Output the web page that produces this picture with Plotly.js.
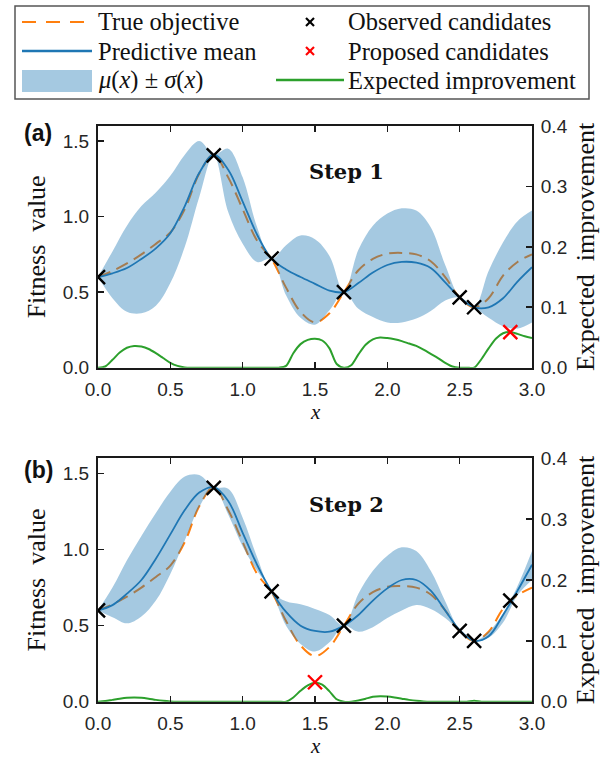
<!DOCTYPE html>
<html>
<head>
<meta charset="utf-8">
<script src="https://cdn.plot.ly/plotly-3.0.1.min.js"></script>
<style>
  html, body { margin: 0; padding: 0; background: #fff; }
  #chart { width: 602px; height: 758px; }
</style>
</head>
<body>
<div id="chart"></div>
<script>
// ---- sample grid for the objective and the GP posterior ----
const xs = [0.0, 0.1, 0.2, 0.3, 0.4, 0.5, 0.6, 0.7, 0.8, 0.9, 1.0,
            1.1, 1.2, 1.3, 1.4, 1.5, 1.6, 1.7, 1.8, 1.9, 2.0,
            2.1, 2.2, 2.3, 2.4, 2.5, 2.6, 2.7, 2.8, 2.9, 3.0];

// true objective (same in both steps)
const trueObjective = [0.60, 0.64, 0.69, 0.75, 0.82, 0.895, 1.05, 1.285, 1.41, 1.26, 1.05,
                       0.84, 0.72, 0.53, 0.37, 0.30, 0.36, 0.50, 0.645, 0.72, 0.755,
                       0.76, 0.75, 0.705, 0.60, 0.465, 0.40, 0.46, 0.61, 0.70, 0.75];

// step 1 posterior
const meanStep1  = [0.60, 0.625, 0.66, 0.72, 0.79, 0.89, 1.07, 1.29, 1.41, 1.31, 1.10,
                    0.88, 0.72, 0.65, 0.60, 0.555, 0.51, 0.50, 0.56, 0.63, 0.68,
                    0.70, 0.695, 0.66, 0.565, 0.465, 0.40, 0.40, 0.46, 0.57, 0.665];
const upperStep1 = [0.60, 0.77, 0.94, 1.07, 1.16, 1.27, 1.41, 1.50, 1.41, 1.45, 1.26,
                    0.93, 0.72, 0.81, 0.875, 0.85, 0.74, 0.50, 0.78, 0.94, 1.02,
                    1.055, 1.04, 0.93, 0.68, 0.465, 0.40, 0.64, 0.83, 0.97, 1.04];
const lowerStep1 = [0.60, 0.46, 0.37, 0.36, 0.41, 0.56, 0.80, 1.13, 1.41, 1.03, 0.82,
                    0.70, 0.72, 0.48, 0.33, 0.285, 0.38, 0.50, 0.39, 0.335, 0.30,
                    0.30, 0.325, 0.375, 0.445, 0.465, 0.40, 0.33, 0.275, 0.26, 0.30];

// step 2 posterior
const meanStep2  = [0.60, 0.635, 0.71, 0.80, 0.94, 1.10, 1.26, 1.375, 1.41, 1.32, 1.11,
                    0.90, 0.725, 0.59, 0.50, 0.465, 0.46, 0.50, 0.57, 0.665, 0.745,
                    0.80, 0.80, 0.73, 0.60, 0.47, 0.40, 0.43, 0.57, 0.73, 0.90];
const upperStep2 = [0.60, 0.75, 0.93, 1.09, 1.24, 1.38, 1.48, 1.49, 1.41, 1.40, 1.21,
                    0.95, 0.725, 0.66, 0.64, 0.61, 0.57, 0.50, 0.71, 0.86, 0.96,
                    1.015, 0.99, 0.86, 0.66, 0.47, 0.40, 0.46, 0.58, 0.76, 0.99];
const lowerStep2 = [0.60, 0.555, 0.515, 0.56, 0.665, 0.84, 1.06, 1.28, 1.41, 1.23, 1.02,
                    0.86, 0.725, 0.50, 0.38, 0.33, 0.39, 0.50, 0.46, 0.49, 0.55,
                    0.60, 0.635, 0.61, 0.55, 0.465, 0.40, 0.42, 0.52, 0.70, 0.80];

// acquisition function grid and values
const xsEI = [0.00, 0.05, 0.10, 0.15, 0.20, 0.25, 0.30, 0.35, 0.40, 0.45, 0.50,
              0.55, 0.60, 0.65, 0.70, 0.75, 0.80, 0.85, 0.90, 0.95, 1.00,
              1.05, 1.10, 1.15, 1.20, 1.25, 1.30, 1.35, 1.40, 1.45, 1.50,
              1.55, 1.60, 1.65, 1.70, 1.75, 1.80, 1.85, 1.90, 1.95, 2.00,
              2.05, 2.10, 2.15, 2.20, 2.25, 2.30, 2.35, 2.40, 2.45, 2.50,
              2.55, 2.60, 2.65, 2.70, 2.75, 2.80, 2.85, 2.90, 2.95, 3.00];
const eiStep1 = [0, 0.002, 0.013, 0.025, 0.033, 0.036, 0.035, 0.031, 0.024, 0.016, 0.008,
                 0.003, 0.0005, 0, 0, 0, 0, 0, 0, 0, 0,
                 0, 0, 0, 0, 0, 0.003, 0.024, 0.039, 0.046, 0.048,
                 0.045, 0.032, 0.006, 0, 0.004, 0.022, 0.038, 0.047, 0.050, 0.049,
                 0.047, 0.044, 0.040, 0.036, 0.030, 0.023, 0.016, 0.008, 0.002, 0,
                 0, 0, 0.014, 0.032, 0.048, 0.057, 0.059, 0.056, 0.052, 0.049];
const eiStep2 = [0, 0.001, 0.003, 0.005, 0.0065, 0.007, 0.0065, 0.005, 0.003, 0.0015, 0.0005,
                 0, 0, 0, 0, 0, 0, 0, 0, 0, 0,
                 0, 0, 0, 0, 0, 0, 0.007, 0.018, 0.027, 0.031,
                 0.028, 0.017, 0.004, 0, 0, 0.002, 0.005, 0.008, 0.009, 0.0085,
                 0.007, 0.005, 0.003, 0.0015, 0.0005, 0, 0, 0, 0, 0,
                 0, 0.0015, 0, 0, 0, 0, 0, 0, 0, 0];

// evaluated and proposed candidates
const observedX1 = [0.0, 0.8, 1.2, 1.7, 2.5, 2.6];
const observedY1 = [0.60, 1.405, 0.723, 0.50, 0.465, 0.40];
const proposedX1 = [2.85];
const proposedEI1 = [0.059];

const observedX2 = [0.0, 0.8, 1.2, 1.7, 2.5, 2.6, 2.85];
const observedY2 = [0.60, 1.405, 0.725, 0.50, 0.465, 0.40, 0.665];
const proposedX2 = [1.5];
const proposedEI2 = [0.032];

const xTicks = [0, 0.5, 1.0, 1.5, 2.0, 2.5, 3.0];
const fitTicks = [0, 0.5, 1.0, 1.5];
const eiTicks = [0, 0.1, 0.2, 0.3, 0.4];

// ---- styling ----
const W = 602, H = 758;
const C_ORANGE = '#ff7f0e', C_BLUE = '#1f77b4', C_BAND = 'rgba(31,119,180,0.4)',
      C_GREEN = '#2ca02c', C_RED = '#ff0000';
const SERIF = 'Liberation Serif, Times New Roman, serif';
const SANS = 'Liberation Sans, Arial, sans-serif';
const px = v => v / W;
const py = v => 1 - v / H;

function panelTraces(xa, ya, ya2, mean, upper, lower, ei, obsX, obsY, propX, propEI) {
  return [
    { x: xs, y: trueObjective, xaxis: xa, yaxis: ya, mode: 'lines',
      line: { color: C_ORANGE, width: 2, dash: '13px,7px', shape: 'spline', smoothing: 1 },
      hoverinfo: 'skip', showlegend: false },
    { x: xs, y: lower, xaxis: xa, yaxis: ya, mode: 'lines',
      line: { width: 0, shape: 'spline', smoothing: 1 }, hoverinfo: 'skip', showlegend: false },
    { x: xs, y: upper, xaxis: xa, yaxis: ya, mode: 'lines', fill: 'tonexty', fillcolor: C_BAND,
      line: { width: 0, shape: 'spline', smoothing: 1 }, hoverinfo: 'skip', showlegend: false },
    { x: xs, y: mean, xaxis: xa, yaxis: ya, mode: 'lines',
      line: { color: C_BLUE, width: 1.8, shape: 'spline', smoothing: 1 },
      hoverinfo: 'skip', showlegend: false },
    { x: obsX, y: obsY, xaxis: xa, yaxis: ya, mode: 'markers',
      marker: { symbol: 'x-thin', size: 14, color: '#000', line: { color: '#000', width: 2.4 } },
      hoverinfo: 'skip', showlegend: false },
    { x: xsEI, y: ei, xaxis: xa, yaxis: ya2, mode: 'lines',
      line: { color: C_GREEN, width: 2, shape: 'spline', smoothing: 0.8 },
      hoverinfo: 'skip', showlegend: false },
    { x: propX, y: propEI, xaxis: xa, yaxis: ya2, mode: 'markers',
      marker: { symbol: 'x-thin', size: 14, color: C_RED, line: { color: C_RED, width: 2.4 } },
      hoverinfo: 'skip', showlegend: false }
  ];
}

const data = [
  ...panelTraces('x', 'y', 'y2', meanStep1, upperStep1, lowerStep1, eiStep1,
                 observedX1, observedY1, proposedX1, proposedEI1),
  ...panelTraces('x2', 'y3', 'y4', meanStep2, upperStep2, lowerStep2, eiStep2,
                 observedX2, observedY2, proposedX2, proposedEI2)
];

const xDomain = [px(98), px(532)];
const domA = [py(367.7), py(126)];
const domB = [py(701.7), py(458.3)];

const axisLine = { showline: true, linecolor: '#1a1a1a', linewidth: 2, ticks: 'inside',
                   ticklen: 6, tickwidth: 1.6, tickcolor: '#1a1a1a', showgrid: false,
                   zeroline: false, tickfont: { family: SANS, size: 19, color: '#262626' } };

function xAxis(anchor) {
  return Object.assign({}, axisLine, {
    domain: xDomain, anchor: anchor, range: [0, 3], tickvals: xTicks, tickformat: '.1f',
    mirror: 'ticks', ticklabelstandoff: 3
  });
}
function yLeft(anchor, dom) {
  return Object.assign({}, axisLine, {
    domain: dom, anchor: anchor, range: [0, 1.6], tickvals: fitTicks, tickformat: '.1f',
    ticklabelstandoff: 3,
    title: { text: 'Fitness  value', font: { family: SERIF, size: 26, color: '#111' }, standoff: 10 }
  });
}
function yRight(anchor, over) {
  return Object.assign({}, axisLine, {
    overlaying: over, side: 'right', anchor: anchor, range: [0, 0.4], tickvals: eiTicks,
    tickformat: '.1f', ticklabelstandoff: 3,
    title: { text: 'Expected  improvement', font: { family: SERIF, size: 26, color: '#111' }, standoff: 9 }
  });
}

// ---- legend box drawn in paper space ----
const shapes = [
  { type: 'rect', xref: 'paper', yref: 'paper', x0: px(15), x1: px(589), y0: py(6), y1: py(99),
    line: { color: '#555', width: 1.5 }, fillcolor: 'rgba(255,255,255,0)' },
  { type: 'line', xref: 'paper', yref: 'paper', x0: px(22), x1: px(92), y0: py(22), y1: py(22),
    line: { color: C_ORANGE, width: 2.2, dash: '14px,10px' } },
  { type: 'line', xref: 'paper', yref: 'paper', x0: px(22), x1: px(92), y0: py(51), y1: py(51),
    line: { color: C_BLUE, width: 2.4 } },
  { type: 'rect', xref: 'paper', yref: 'paper', x0: px(22), x1: px(92), y0: py(70), y1: py(92),
    line: { width: 0 }, fillcolor: C_BAND },
  { type: 'line', xref: 'paper', yref: 'paper', x0: px(276), x1: px(344), y0: py(80), y1: py(80),
    line: { color: C_GREEN, width: 2.4 } }
];
// small crosses for the candidate entries
[[310, 22, '#000'], [310, 51, C_RED]].forEach(([cx, cy, col]) => {
  shapes.push({ type: 'line', xref: 'paper', yref: 'paper', x0: px(cx - 4), x1: px(cx + 4),
                y0: py(cy - 4), y1: py(cy + 4), line: { color: col, width: 2.2 } });
  shapes.push({ type: 'line', xref: 'paper', yref: 'paper', x0: px(cx - 4), x1: px(cx + 4),
                y0: py(cy + 4), y1: py(cy - 4), line: { color: col, width: 2.2 } });
});

const legendFont = { family: SERIF, size: 24.5, color: '#111' };
function legendText(text, x, y) {
  return { text: text, xref: 'paper', yref: 'paper', x: px(x), y: py(y),
           xanchor: 'left', yanchor: 'middle', showarrow: false, font: legendFont };
}
// x-axis labels placed under each panel
function xLabel(y) {
  return { text: '<i>x</i>', xref: 'paper', yref: 'paper', x: px(315), y: py(y),
           xanchor: 'center', yanchor: 'middle', showarrow: false, height: 18, borderpad: 0,
           font: { family: SERIF, size: 21, color: '#111' } };
}

const annotations = [
  legendText('True objective', 96, 22),
  legendText('Predictive mean', 96, 51),
  legendText('<i>μ</i>(<i>x</i>) ± <i>σ</i>(<i>x</i>)', 96, 80),
  legendText('Observed candidates', 346, 22),
  legendText('Proposed candidates', 346, 51),
  legendText('Expected improvement', 346, 80),
  xLabel(412),
  xLabel(746),
  { text: '<b>(a)</b>', xref: 'paper', yref: 'paper', x: px(38), y: py(133),
    xanchor: 'center', yanchor: 'middle', showarrow: false,
    font: { family: SANS, size: 23, color: '#111' } },
  { text: '<b>(b)</b>', xref: 'paper', yref: 'paper', x: px(38), y: py(470),
    xanchor: 'center', yanchor: 'middle', showarrow: false,
    font: { family: SANS, size: 23, color: '#111' } },
  { text: '<b>Step 1</b>', xref: 'paper', yref: 'paper', x: px(346), y: py(171),
    xanchor: 'center', yanchor: 'middle', showarrow: false,
    font: { family: 'DejaVu Serif, serif', size: 21, color: '#111' } },
  { text: '<b>Step 2</b>', xref: 'paper', yref: 'paper', x: px(346), y: py(504),
    xanchor: 'center', yanchor: 'middle', showarrow: false,
    font: { family: 'DejaVu Serif, serif', size: 21, color: '#111' } }
];

const layout = {
  width: W, height: H,
  margin: { l: 0, r: 0, t: 0, b: 0 },
  paper_bgcolor: '#fff', plot_bgcolor: '#fff',
  showlegend: false,
  font: { family: SANS, size: 19, color: '#262626' },
  xaxis: xAxis('y'),
  yaxis: yLeft('x', domA),
  yaxis2: yRight('x', 'y'),
  xaxis2: xAxis('y3'),
  yaxis3: yLeft('x2', domB),
  yaxis4: yRight('x2', 'y3'),
  shapes: shapes,
  annotations: annotations
};

Plotly.newPlot('chart', data, layout, { staticPlot: true, displayModeBar: false });
</script>
</body>
</html>
